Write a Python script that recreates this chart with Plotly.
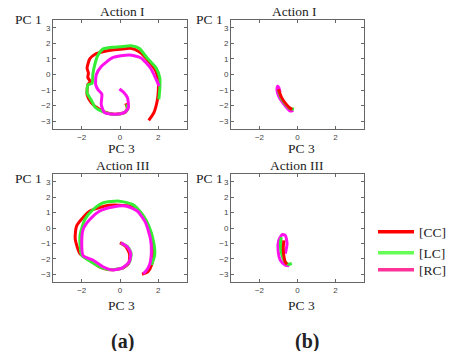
import plotly.graph_objects as go

W, H = 458, 351

# ---------- data ----------
series_names = ["[CC]", "[LC]", "[RC]"]
panel_titles = ["Action I", "Action I", "Action III", "Action III"]
x_ticks = [-2, 0, 2]
y_ticks = [-3, -2, -1, 0, 1, 2, 3]

# (a) Action I
a1_cc_x = [0.3, 0.38, 0.3, 0.0, -0.5, -1.05, -1.5, -1.72, -1.68, -1.55, -1.68, -1.65, -1.72, -1.58, -1.3, -0.9, -0.4, 0.0, 0.55, 1.0, 1.5, 1.88, 2.0, 2.0, 1.94, 1.77, 1.5]
a1_cc_y = [-1.85, -2.15, -2.4, -2.52, -2.52, -2.25, -1.82, -1.3, -0.65, -0.45, -0.2, 0.1, 0.41, 1.0, 1.3, 1.46, 1.58, 1.62, 1.68, 1.46, 0.85, 0.2, -0.45, -1.1, -1.72, -2.45, -2.95]
a1_lc_x = [0.35, 0.4, 0.14, -0.38, -0.9, -1.3, -1.5, -1.72, -1.67, -1.55, -1.45, -1.42, -1.32, -1.15, -0.9, -0.4, 0.0, 0.57, 1.0, 1.43, 1.89, 2.08, 2.08, 2.03]
a1_lc_y = [-1.9, -2.24, -2.5, -2.56, -2.39, -2.1, -1.65, -1.18, -0.65, -0.61, -0.55, 0.0, 0.62, 1.25, 1.63, 1.75, 1.78, 1.85, 1.68, 1.04, 0.41, -0.23, -0.9, -1.6]
a1_rc_x = [-0.03, 0.2, 0.39, 0.44, 0.22, -0.2, -0.81, -0.98, -0.95, -1.15, -1.27, -1.24, -0.98, -0.38, 0.48, 1.08, 1.6, 1.94, 2.05]
a1_rc_y = [-0.93, -1.15, -1.5, -2.14, -2.45, -2.56, -2.45, -1.93, -1.25, -0.97, -0.65, -0.02, 0.51, 1.08, 1.25, 1.08, 0.4, -0.45, -0.75]

# (a) Action III
a3_cc_x = [0.0, 0.3, 0.5, 0.45, 0.1, -0.55, -1.1, -1.57, -2.09, -2.34, -2.26, -1.57, -0.55, 0.48, 1.0, 1.4, 1.65, 1.75, 1.65, 1.45, 1.15]
a3_cc_y = [-0.95, -1.2, -1.7, -2.3, -2.62, -2.7, -2.5, -2.09, -1.66, -0.7, 0.15, 1.1, 1.47, 1.42, 1.1, 0.3, -0.7, -1.6, -2.4, -2.85, -3.0]
a3_lc_x = [0.05, 0.4, 0.58, 0.5, 0.15, -0.4, -0.9, -1.5, -2.0, -2.09, -1.83, -1.4, -0.89, -0.04, 0.65, 1.16, 1.5, 1.76, 1.81, 1.64]
a3_lc_y = [-0.96, -1.22, -1.65, -2.2, -2.58, -2.7, -2.6, -2.2, -1.77, -0.49, 0.57, 1.2, 1.63, 1.74, 1.53, 0.89, 0.15, -0.92, -1.77, -2.4]
a3_rc_x = [0.05, 0.39, 0.56, 0.48, 0.13, -0.38, -0.89, -1.4, -1.92, -2.0, -1.92, -1.57, -1.06, -0.38, 0.31, 0.9, 1.33, 1.59, 1.64, 1.54, 1.3, 1.2]
a3_rc_y = [-0.96, -1.24, -1.66, -2.2, -2.58, -2.72, -2.51, -2.09, -1.81, -0.92, -0.06, 0.57, 1.1, 1.36, 1.42, 1.1, 0.36, -0.7, -1.56, -2.4, -2.87, -2.95]

# (b) Action I
b1_cc_x = [-1.0, -0.85, -0.6, -0.4, -0.28]
b1_cc_y = [-0.95, -1.45, -1.9, -2.15, -2.25]
b1_lc_x = [-1.0, -0.85, -0.6, -0.4, -0.18]
b1_lc_y = [-1.0, -1.55, -1.95, -2.2, -2.22]
b1_rc_x = [-0.92, -0.98, -1.05, -1.08, -0.95, -0.75, -0.55, -0.38, -0.22]
b1_rc_y = [-1.15, -0.85, -0.75, -1.0, -1.5, -1.85, -2.15, -2.35, -2.3]

# (b) Action III
b3_cc_x = [-0.72, -0.75, -0.72, -0.65, -0.55]
b3_cc_y = [-0.8, -1.3, -1.8, -2.2, -2.35]
b3_lc_x = [-0.85, -0.9, -0.85, -0.7, -0.5, -0.3]
b3_lc_y = [-0.6, -1.0, -1.6, -2.1, -2.35, -2.3]
b3_rc_x = [-0.64, -0.55, -0.64, -0.81, -0.99, -1.02, -0.9, -0.64, -0.43]
b3_rc_y = [-1.66, -1.02, -0.49, -0.43, -0.81, -1.45, -2.09, -2.41, -2.45]

# ---------- styling ----------
curve_colors = ["#ff0000", "#33ee33", "#ff11ee"]
legend_colors = ["#ff0000", "#66ff55", "#ff3399"]
SERIF = "Liberation Serif"

def px_x(p):
    return p / W

def px_y(p):
    return 1 - p / H

# axis domains (pixel boxes)
left_dom = [px_x(53), px_x(187)]
right_dom = [px_x(231), px_x(364)]
top_dom = [px_y(129), px_y(20)]
bot_dom = [px_y(282), px_y(174)]

fig = go.Figure()

panels = [
    ("x", "y", [(a1_cc_x, a1_cc_y), (a1_lc_x, a1_lc_y), (a1_rc_x, a1_rc_y)], [0, 1, 2]),
    ("x2", "y2", [(b1_cc_x, b1_cc_y), (b1_lc_x, b1_lc_y), (b1_rc_x, b1_rc_y)], [2, 1, 0]),
    ("x3", "y3", [(a3_cc_x, a3_cc_y), (a3_lc_x, a3_lc_y), (a3_rc_x, a3_rc_y)], [0, 1, 2]),
    ("x4", "y4", [(b3_cc_x, b3_cc_y), (b3_lc_x, b3_lc_y), (b3_rc_x, b3_rc_y)], [2, 1, 0]),
]

legend_ids = ["legend", "legend2", "legend3"]
legend_rows = [232, 253, 270]

# legend entries (one small legend per entry so rows can be placed freely)
for i, name in enumerate(series_names):
    fig.add_trace(go.Scatter(x=[None], y=[None], mode="lines", name=name,
                             line=dict(color=legend_colors[i], width=3.5),
                             xaxis="x", yaxis="y", showlegend=True,
                             legend=legend_ids[i]))

for xa, ya, data, order in panels:
    for i in order:
        xs, ys = data[i]
        fig.add_trace(go.Scatter(x=xs, y=ys, mode="lines", xaxis=xa, yaxis=ya,
                                 line=dict(color=curve_colors[i], width=3.0,
                                           shape="spline", smoothing=0.6),
                                 showlegend=False, hoverinfo="skip"))

def ax(domain, anchor, vals):
    return dict(domain=domain, anchor=anchor, range=[-3.5, 3.5], tickvals=vals,
                showgrid=False, zeroline=False, showline=True, linecolor="#666666",
                linewidth=1, mirror="ticks", ticks="inside", ticklen=3,
                tickcolor="#666666", tickfont=dict(family="Liberation Sans", size=8,
                                                   color="#444444"),
                fixedrange=True)

def leg(row):
    return dict(x=px_x(373), y=px_y(row), xanchor="left", yanchor="middle",
                font=dict(family=SERIF, size=13.5, color="#222222"),
                bgcolor="rgba(0,0,0,0)", borderwidth=0, itemwidth=36)

layout = dict(
    width=W, height=H, margin=dict(l=0, r=0, t=0, b=0),
    paper_bgcolor="white", plot_bgcolor="white",
    xaxis=ax(left_dom, "y", x_ticks), yaxis=ax(top_dom, "x", y_ticks),
    xaxis2=ax(right_dom, "y2", x_ticks), yaxis2=ax(top_dom, "x2", y_ticks),
    xaxis3=ax(left_dom, "y3", x_ticks), yaxis3=ax(bot_dom, "x3", y_ticks),
    xaxis4=ax(right_dom, "y4", x_ticks), yaxis4=ax(bot_dom, "x4", y_ticks),
    legend=leg(legend_rows[0]), legend2=leg(legend_rows[1]), legend3=leg(legend_rows[2]),
    showlegend=True,
)
fig.update_layout(**layout)

def txt(s, x, y, size=13.5, bold=False):
    fig.add_annotation(text=("<b>%s</b>" % s) if bold else s, x=px_x(x), y=px_y(y),
                       xref="paper", yref="paper", showarrow=False,
                       xanchor="center", yanchor="middle",
                       font=dict(family=SERIF, size=size, color="#222222"))

# panel titles
txt(panel_titles[0], 122, 12)
txt(panel_titles[1], 294, 12)
txt(panel_titles[2], 123, 166)
txt(panel_titles[3], 297, 166)
# axis names
for (xp, yp) in [(28.5, 20), (209, 20), (28.5, 178), (209, 178)]:
    txt("PC 1", xp, yp)
for (xp, yp) in [(121, 148), (301.5, 148), (121.5, 305), (301.5, 305)]:
    txt("PC 3", xp, yp)
# sub-figure labels
txt("(a)", 122.5, 341, size=20, bold=True)
txt("(b)", 306.5, 341, size=20, bold=True)

fig.write_html("out.html",
               config={"displayModeBar": False},
               post_script="document.body.style.margin='0px';"
                           "document.body.style.overflow='hidden';")
